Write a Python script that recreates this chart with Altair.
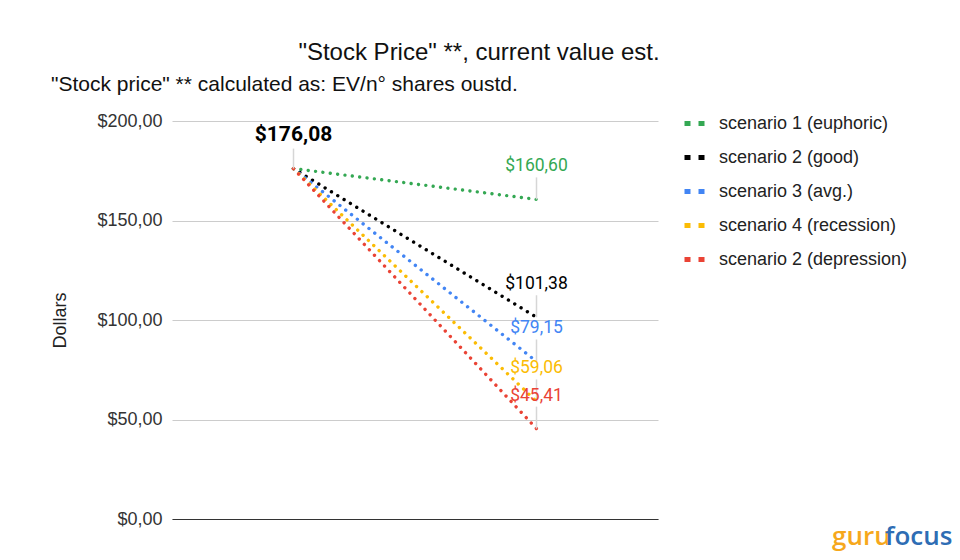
import altair as alt
import pandas as pd

# ---- data ----
scenarios = [
    "scenario 1 (euphoric)",
    "scenario 2 (good)",
    "scenario 3 (avg.)",
    "scenario 4 (recession)",
    "scenario 2 (depression)",
]
colors = ["#34A853", "#000000", "#4285F4", "#FBBC04", "#EA4335"]
periods = ["Current", "Estimate"]
start_value = 176.08
end_values = [160.60, 101.38, 79.15, 59.06, 45.41]
y_ticks = [0, 50, 100, 150, 200]

title_text = '"Stock Price" **, current value est.'
subtitle_text = '"Stock price" ** calculated as: EV/n° shares oustd.'


def money(v):
    return "$" + f"{v:.2f}".replace(".", ",")


rows = []
for i, (s, e) in enumerate(zip(scenarios, end_values)):
    rows.append({"scenario": s, "period": periods[0], "value": start_value, "order": i})
    rows.append({"scenario": s, "period": periods[1], "value": e, "order": i})
df_lines = pd.DataFrame(rows)

df_end = pd.DataFrame({
    "scenario": scenarios,
    "period": [periods[1]] * len(scenarios),
    "value": end_values,
    "label": [money(v) for v in end_values],
})
df_start = pd.DataFrame({
    "period": [periods[0]],
    "value": [start_value],
    "label": [money(start_value)],
})

color_scale = alt.Scale(domain=scenarios, range=colors)

x_enc = alt.X(
    "period:N",
    sort=periods,
    scale=alt.Scale(type="point", padding=0.5, domain=periods),
    axis=alt.Axis(labels=False, ticks=False, title=None, grid=False,
                  domainColor="#333333", domainWidth=1),
)
y_enc = alt.Y(
    "value:Q",
    scale=alt.Scale(domain=[0, 200], nice=False),
    axis=alt.Axis(
        values=y_ticks,
        title="Dollars",
        labelExpr="'$' + replace(format(datum.value, '.2f'), '.', ',')",
        domain=False,
        ticks=False,
        grid=True,
        gridColor="#cccccc",
        labelFont="Liberation Sans",
        labelFontSize=18,
        labelColor="#333333",
        labelPadding=10,
        titleFont="Liberation Sans",
        titleFontSize=18,
        titleFontWeight="normal",
        titleColor="#222222",
        titlePadding=27,
    ),
)

lines = alt.Chart(df_lines).mark_line(
    strokeDash=[0.01, 7.4], strokeWidth=3.4, strokeCap="round"
).encode(
    x=x_enc,
    y=y_enc,
    color=alt.Color(
        "scenario:N",
        scale=color_scale,
        sort=scenarios,
        legend=alt.Legend(
            title=None,
            orient="none",
            legendX=510,
            legendY=-10,
            labelFont="Liberation Sans",
            labelFontSize=18,
            labelColor="#222222",
            labelLimit=0,
            symbolType="stroke",
            symbolStrokeWidth=5,
            symbolDash=[6, 8],
            symbolSize=400,
            rowPadding=11,
            labelOffset=12,
        ),
    ),
    order=alt.Order("order:Q"),
    detail="scenario:N",
)

stems_end = alt.Chart(df_end).mark_rule(
    color="#d6d6d6", strokeWidth=1.5, y2Offset=-22
).encode(x=alt.X("period:N", sort=periods), y="value:Q", y2="value:Q")

stems_start = alt.Chart(df_start).mark_rule(
    color="#d6d6d6", strokeWidth=1.5, y2Offset=-20
).encode(x=alt.X("period:N", sort=periods), y="value:Q", y2="value:Q")

end_labels = alt.Chart(df_end).mark_text(
    font="Roboto", fontSize=17.5, dy=-33, baseline="middle", align="center"
).encode(
    x=alt.X("period:N", sort=periods),
    y="value:Q",
    text="label:N",
    color=alt.Color("scenario:N", scale=color_scale, legend=None),
)

start_label = alt.Chart(df_start).mark_text(
    font="Roboto", fontSize=21, fontWeight="bold", dy=-34,
    baseline="middle", align="center", color="#000000"
).encode(x=alt.X("period:N", sort=periods), y="value:Q", text="label:N")

title_mark = alt.Chart(pd.DataFrame({"t": [title_text]})).mark_text(
    font="Liberation Sans", fontSize=24, color="#111111",
    align="center", baseline="middle"
).encode(x=alt.value(307), y=alt.value(-68), text="t:N")

subtitle_mark = alt.Chart(pd.DataFrame({"t": [subtitle_text]})).mark_text(
    font="Liberation Sans", fontSize=21, color="#111111",
    align="left", baseline="middle"
).encode(x=alt.value(-121), y=alt.value(-36), text="t:N")

logo_guru = alt.Chart(pd.DataFrame({"t": ["guru"]})).mark_text(
    font="Open Sans", fontSize=26, fontWeight=600, color="#F6A81C",
    align="left", baseline="alphabetic"
).encode(x=alt.value(660), y=alt.value(424), text="t:N")

logo_focus = alt.Chart(pd.DataFrame({"t": ["focus"]})).mark_text(
    font="Open Sans", fontSize=26, fontWeight=600, color="#2E6DB4",
    align="left", baseline="alphabetic"
).encode(x=alt.value(713), y=alt.value(424), text="t:N")

chart = alt.layer(
    lines, stems_end, stems_start, end_labels, start_label,
    title_mark, subtitle_mark, logo_guru, logo_focus
).properties(
    width=486,
    height=398,
    background="white",
    autosize=alt.AutoSizeParams(type="none"),
    padding={"left": 164, "top": 113, "right": 294, "bottom": 33},
).configure_view(strokeWidth=0, stroke="transparent")

chart.save("out.html", embed_options={"renderer": "svg", "actions": False})
